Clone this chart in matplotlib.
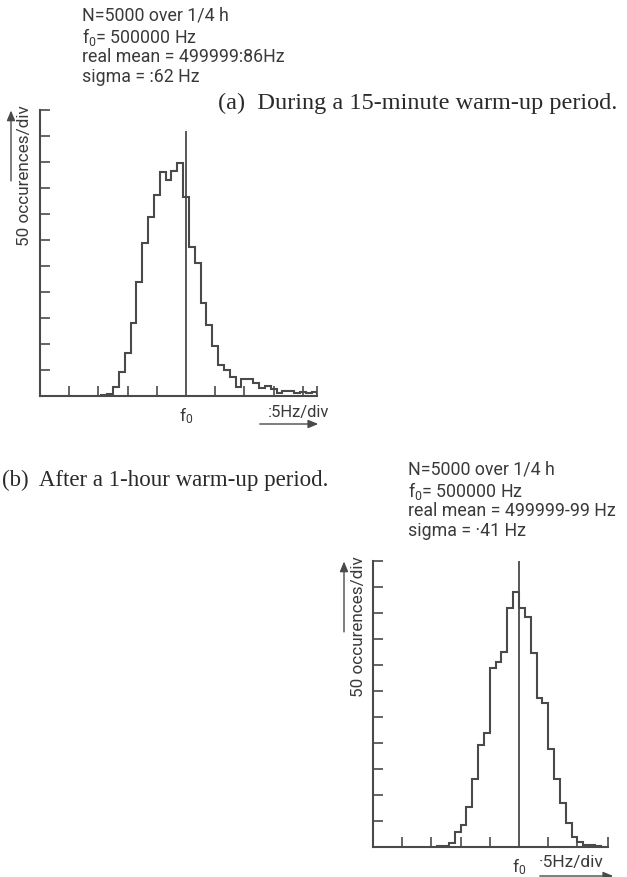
import matplotlib.pyplot as plt
import numpy as np

plt.rcParams['font.family'] = ['Roboto', 'DejaVu Sans']
plt.rcParams['mathtext.default'] = 'regular'

# bin heights in divisions (50 occurences/div), bins 0.2 div wide (0.1 Hz)
top_start = 2.1
top_counts = [0.03, 0.06, 0.33, 0.90, 1.66, 2.80, 4.38, 5.89, 6.87, 7.73,
              8.60, 8.31, 8.63, 8.95, 7.66, 5.72, 5.10, 3.58, 2.72, 1.91,
              1.17, 0.99, 0.73, 0.35, 0.63, 0.63, 0.48, 0.31, 0.39, 0.26,
              0.12, 0.18, 0.20, 0.12, 0.15, 0.10, 0.15]
top_f0_peak = 10.19

bot_start = 2.2
bot_counts = [0.03, 0.04, 0.13, 0.58, 0.83, 1.51, 2.59, 3.91, 4.38, 6.86,
              7.12, 7.50, 9.17, 9.81, 9.17, 8.85, 7.44, 5.72, 5.53, 3.75,
              2.59, 1.67, 0.90, 0.38, 0.19, 0.06, 0.06, 0.03]
bot_f0_peak = 11.0
bin_w = 0.2

top_text = ["N=5000 over 1/4 h", "f$_0$= 500000 Hz",
            "real mean = 499999:86Hz", "sigma = :62 Hz"]
bot_text = ["N=5000 over 1/4 h", "f$_0$= 500000 Hz",
            "real mean = 499999-99 Hz", "sigma = \u00b741 Hz"]

W, H = 627, 877
ink = '#4a4a4a'
txt = '#3a3a3a'

fig = plt.figure(figsize=(W / 100, H / 100), dpi=100)


def fx(x):
    return x / W


def fy(y):
    return 1 - y / H


def arrow(x0, y0, x1, y1):
    fig.add_artist(plt.matplotlib.patches.FancyArrowPatch(
        (fx(x0), fy(y0)), (fx(x1), fy(y1)), transform=fig.transFigure,
        arrowstyle='-|>,head_length=6,head_width=2.5', color=ink, lw=1.0))


def hist_panel(left, base, xmax, counts, start, peak, xticks):
    pw, ph = 29.2, 26.0
    ax = fig.add_axes([fx(left), fy(base), xmax * pw / W, 11 * ph / H])
    edges = start + bin_w * np.arange(len(counts) + 1)
    ax.stairs(counts, edges, color=ink, lw=1.5)
    ax.vlines(5, 0, peak, color=ink, lw=1.3)
    ax.set_xlim(0, xmax)
    ax.set_ylim(0, 11)
    for s in ['top', 'right']:
        ax.spines[s].set_visible(False)
    for s in ['left', 'bottom']:
        ax.spines[s].set_color(ink)
        ax.spines[s].set_linewidth(1.5)
    ax.set_xticks(xticks)
    ax.set_yticks(range(1, 12))
    ax.tick_params(direction='in', length=7, width=1.2, color=ink,
                   labelbottom=False, labelleft=False)
    ax.patch.set_alpha(0)
    # labels
    fig.text(fx(left - 15), fy(base - 220), "50 occurences/div", rotation=90,
             ha='center', va='center', fontsize=12.3, color=txt)
    arrow(left - 29, base - 212, left - 29, base - 288)
    fig.text(fx(left + 5 * pw), fy(base + 20), "f$_0$", ha='center',
             va='center', fontsize=12.5, color=txt)
    return ax, pw


def text_block(x, y, lines):
    for i, s in enumerate(lines):
        fig.text(fx(x), fy(y + 20.5 * i), s, ha='left', va='center',
                 fontsize=12.8, color=txt)


# (a) top panel
text_block(82, 16, top_text)
hist_panel(40, 395.7, 9.5, top_counts, top_start, top_f0_peak,
           [1, 2, 3, 4, 6, 7, 8, 9, 9.5])
fig.text(fx(268), fy(412), ":5Hz/div", ha='left', va='center',
         fontsize=12, color=txt)
arrow(257, 424, 321, 424)
fig.text(fx(218), fy(103), "(a)  During a 15-minute warm-up period.",
         family='Liberation Serif', fontsize=17.5, color='#2a2a2a',
         ha='left', va='center')

# (b) bottom panel
fig.text(fx(2), fy(480), "(b)  After a 1-hour warm-up period.",
         family='Liberation Serif', fontsize=16.5, color='#2a2a2a',
         ha='left', va='center')
text_block(408, 470, bot_text)
hist_panel(373, 846.7, 8.05, bot_counts, bot_start, bot_f0_peak,
           [1, 2, 3, 4, 6, 7, 8.05])
fig.text(fx(539), fy(862), "\u00b75Hz/div", ha='left', va='center',
         fontsize=12.5, color=txt)
arrow(537, 876, 616, 876)

fig.savefig("out.png", dpi=100, facecolor='white')
